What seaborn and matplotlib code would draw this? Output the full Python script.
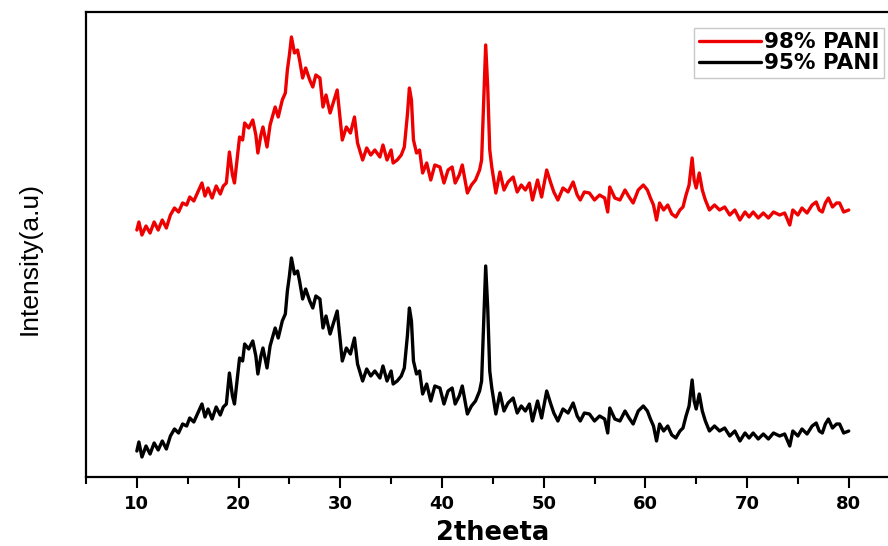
import numpy as np
import pandas as pd
import matplotlib
matplotlib.use("Agg")
import matplotlib.pyplot as plt
from matplotlib.ticker import MultipleLocator
import seaborn as sns

# 2-theta positions (degrees)
two_theta = [
    10.0, 10.2, 10.5, 10.9, 11.3, 11.7, 12.1, 12.5, 12.9, 13.3, 13.7, 14.1, 14.5, 14.9,
    15.2, 15.6, 16.0, 16.4, 16.7, 17.0, 17.4, 17.8, 18.2, 18.5, 18.8, 19.1, 19.4, 19.6,
    20.1, 20.4, 20.6, 21.0, 21.4, 21.7, 21.9, 22.2, 22.4, 22.8, 23.1, 23.6, 23.9, 24.3,
    24.6, 24.8, 25.0, 25.2, 25.5, 25.8, 26.0, 26.3, 26.6, 27.0, 27.3, 27.6, 28.0, 28.3,
    28.6, 29.0, 29.4, 29.7, 30.0, 30.2, 30.6, 31.0, 31.4, 31.7, 32.2, 32.6, 33.0, 33.4,
    33.9, 34.2, 34.6, 35.0, 35.2, 35.6, 36.0, 36.3, 36.6, 36.8, 37.0, 37.2, 37.5, 37.8,
    38.1, 38.5, 38.9, 39.3, 39.8, 40.2, 40.6, 41.0, 41.3, 41.7, 42.0, 42.5, 42.9, 43.3,
    43.7, 43.9, 44.1, 44.3, 44.5, 44.7, 44.9, 45.3, 45.7, 46.1, 46.5, 47.0, 47.4, 47.8,
    48.2, 48.6, 48.9, 49.4, 49.8, 50.3, 50.7, 51.0, 51.4, 51.9, 52.4, 52.9, 53.3, 53.6,
    54.0, 54.5, 55.0, 55.5, 56.0, 56.3, 56.5, 57.0, 57.5, 58.0, 58.4, 58.8, 59.3, 59.8,
    60.2, 60.5, 60.8, 61.1, 61.4, 61.8, 62.2, 62.6, 63.0, 63.4, 63.7, 64.0, 64.3, 64.6,
    64.8, 65.0, 65.3, 65.6, 65.9, 66.3, 66.8, 67.3, 67.8, 68.3, 68.8, 69.3, 69.8, 70.2,
    70.6, 71.1, 71.6, 72.1, 72.6, 73.2, 73.7, 74.2, 74.5, 75.0, 75.4, 75.9, 76.4, 76.8,
    77.1, 77.4, 77.7, 78.0, 78.4, 78.8, 79.1, 79.5, 80.0,
]

# Intensity of the 98% PANI sample (a.u., stacked on top)
pani_98 = [
    247, 255, 242, 251, 244, 255, 247, 257, 249, 262, 269, 265, 274, 272,
    280, 276, 285, 294, 281, 289, 279, 291, 283, 291, 294, 325, 302, 294,
    340, 337, 354, 349, 357, 342, 324, 342, 350, 330, 352, 370, 360, 377,
    384, 407, 422, 440, 424, 427, 417, 399, 409, 397, 390, 402, 399, 370,
    382, 364, 377, 387, 357, 337, 350, 344, 360, 334, 317, 329, 322, 327,
    320, 332, 317, 327, 314, 317, 322, 330, 362, 389, 377, 337, 324, 327,
    304, 314, 297, 312, 310, 294, 307, 310, 294, 302, 312, 284, 292, 297,
    307, 317, 374, 432, 390, 327, 310, 284, 305, 287, 295, 300, 285, 292,
    287, 294, 277, 297, 280, 307, 294, 285, 277, 289, 285, 295, 282, 277,
    285, 284, 277, 282, 279, 265, 290, 279, 277, 287, 280, 274, 287, 292,
    287, 279, 272, 257, 274, 267, 272, 263, 260, 267, 270, 282, 292, 319,
    297, 289, 304, 287, 277, 267, 272, 267, 270, 262, 267, 257, 265, 260,
    265, 259, 264, 259, 265, 262, 264, 252, 267, 262, 269, 264, 272, 275,
    267, 265, 274, 279, 270, 274, 274, 265, 267,
]

# Intensity of the 95% PANI sample (a.u., lower trace)
pani_95 = [
    26, 35, 20, 31, 23, 34, 27, 36, 28, 41, 48, 44, 53, 51,
    59, 55, 64, 73, 60, 68, 58, 70, 62, 70, 73, 104, 81, 73,
    119, 116, 133, 128, 136, 121, 103, 121, 129, 109, 131, 149, 139, 156,
    163, 186, 201, 219, 203, 206, 196, 178, 188, 176, 169, 181, 178, 149,
    161, 143, 156, 166, 136, 116, 129, 123, 139, 113, 96, 108, 101, 106,
    99, 111, 96, 106, 93, 96, 101, 109, 141, 169, 156, 116, 103, 106,
    83, 93, 76, 91, 89, 73, 86, 89, 73, 81, 91, 63, 71, 76,
    86, 96, 153, 211, 169, 106, 89, 63, 84, 66, 74, 79, 64, 71,
    66, 73, 56, 76, 59, 86, 73, 64, 56, 68, 64, 74, 61, 56,
    64, 63, 56, 61, 58, 44, 69, 58, 56, 66, 59, 53, 66, 71,
    66, 58, 51, 36, 53, 46, 51, 42, 39, 46, 49, 61, 71, 97,
    76, 68, 83, 66, 56, 46, 51, 46, 49, 41, 46, 36, 44, 39,
    44, 38, 43, 38, 44, 41, 43, 31, 46, 41, 48, 43, 51, 54,
    46, 44, 53, 58, 49, 53, 53, 44, 46,
]

labels = ["98% PANI", "95% PANI"]
colors = ["#ee0000", "#000000"]

df = pd.concat([
    pd.DataFrame({"2theta": two_theta, "Intensity": pani_98, "Sample": labels[0]}),
    pd.DataFrame({"2theta": two_theta, "Intensity": pani_95, "Sample": labels[1]}),
], ignore_index=True)

sns.set_theme(style="white")
plt.rcParams["font.family"] = ["Liberation Sans", "DejaVu Sans"]
plt.rcParams["text.color"] = "black"
plt.rcParams["axes.labelcolor"] = "black"
plt.rcParams["xtick.color"] = "black"

fig = plt.figure(figsize=(8.88, 5.46), dpi=100)
ax = fig.add_axes([86 / 888, 69 / 546, 813.6 / 888, 465 / 546])

sns.lineplot(data=df, x="2theta", y="Intensity", hue="Sample",
             palette=dict(zip(labels, colors)), estimator=None, sort=False,
             linewidth=2.4, ax=ax)

ax.set_xlim(5, 85)
ax.set_ylim(0, 465)
ax.set_xticks(range(10, 81, 10))
ax.xaxis.set_minor_locator(MultipleLocator(5))
ax.set_yticks([])
ax.tick_params(axis="x", which="major", direction="out", length=8, width=1.5,
               color="black", bottom=True, pad=5)
ax.tick_params(axis="x", which="minor", direction="out", length=5, width=1.5,
               color="black", bottom=True)
for lab in ax.get_xticklabels():
    lab.set_fontfamily("DejaVu Sans")
    lab.set_fontweight("bold")
    lab.set_fontsize(13)

for side in ["left", "top", "bottom"]:
    ax.spines[side].set_color("black")
    ax.spines[side].set_linewidth(1.6)
ax.spines["right"].set_visible(False)

ax.set_xlabel("2theeta", fontsize=18.5, fontweight="bold", family="DejaVu Sans",
              labelpad=5)
ax.set_ylabel("Intensity(a.u)", fontsize=19)
ax.yaxis.set_label_coords(-0.054, 0.47)

leg = ax.legend(loc="upper right", bbox_to_anchor=(884 / 888, 1 - 28 / 546),
                bbox_transform=fig.transFigure, frameon=True, fancybox=False,
                handlelength=2.9, handletextpad=0.15, borderpad=0.2,
                labelspacing=0.05, borderaxespad=0,
                prop={"weight": "bold", "size": 15.5, "family": "DejaVu Sans"})
leg.get_frame().set_edgecolor("#bbbbbb")
leg.get_frame().set_linewidth(1.0)
for line in leg.get_lines():
    line.set_linewidth(2.4)

fig.savefig("out.png", dpi=100)
